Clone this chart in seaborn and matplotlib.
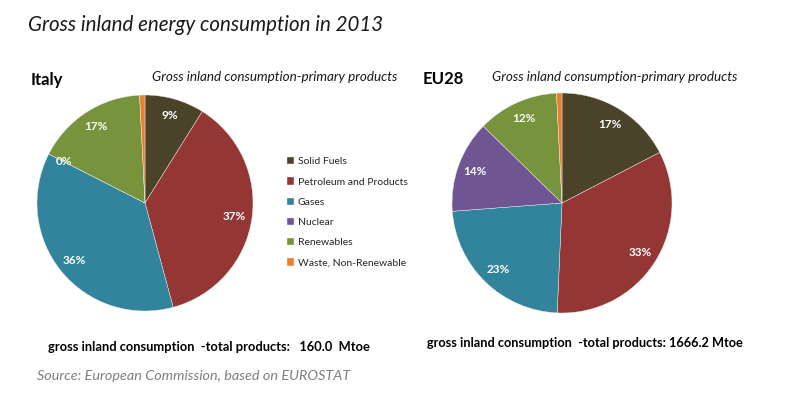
import matplotlib
matplotlib.use("Agg")
import matplotlib.pyplot as plt
import seaborn as sns

categories = ["Solid Fuels", "Petroleum and Products", "Gases", "Nuclear",
              "Renewables", "Waste, Non-Renewable"]
italy_values = [8.9, 36.9, 36.7, 0.0, 16.7, 0.8]
italy_labels = ["9%", "37%", "36%", "0%", "17%", ""]
eu_values = [17.4, 33.3, 23.1, 13.5, 11.9, 0.8]
eu_labels = ["17%", "33%", "23%", "14%", "12%", ""]
colors_hex = ["#4A4229", "#943634", "#31849B", "#6F5592", "#77933C", "#E8812E"]

sns.set_theme(style="white")
plt.rcParams['font.family'] = ['Lato', 'DejaVu Sans']
palette = sns.color_palette(colors_hex)

W, H = 789, 395
fig = plt.figure(figsize=(W / 100, H / 100), dpi=100)
fig.patch.set_facecolor("white")


def px_axes(cx, cy, r):
    return fig.add_axes([(cx - r) / W, (H - cy - r) / H, 2 * r / W, 2 * r / H])


def draw_pie(ax, values, labels):
    it = iter(labels)
    wedges, texts, autotexts = ax.pie(
        values, colors=palette, startangle=90, counterclock=False,
        autopct=lambda p: next(it), pctdistance=0.84, radius=1,
        wedgeprops=dict(edgecolor="#f0f0f0", linewidth=0.3),
        textprops=dict(color="white", fontsize=8.5, fontweight="bold"))
    ax.set_xlim(-1, 1)
    ax.set_ylim(-1, 1)
    ax.set_axis_off()
    return wedges


ax1 = px_axes(145, 203, 108)
w1 = draw_pie(ax1, italy_values, italy_labels)
ax2 = px_axes(562, 203, 110)
draw_pie(ax2, eu_values, eu_labels)

fig.legend(w1, categories, loc="upper left", bbox_to_anchor=(283 / W, 1 - 153 / H),
           frameon=False, fontsize=7.5, handlelength=0.7, handleheight=0.7,
           handletextpad=0.3, labelspacing=1.05, borderaxespad=0)

fig.text(28 / W, 1 - 25 / H, "Gross inland energy consumption in 2013",
         fontsize=14.8, style="italic", color="#1a1a1a", va="center", ha="left")
fig.text(31 / W, 1 - 80 / H, "Italy", fontsize=12, fontweight="bold",
         color="black", va="center", ha="left")
fig.text(423 / W, 1 - 79 / H, "EU28", fontsize=12, fontweight="bold",
         color="black", va="center", ha="left")
fig.text(152 / W, 1 - 77 / H, "Gross inland consumption-primary products",
         fontsize=9.7, style="italic", color="#1a1a1a", va="center", ha="left")
fig.text(492 / W, 1 - 77 / H, "Gross inland consumption-primary products",
         fontsize=9.7, style="italic", color="#1a1a1a", va="center", ha="left")
fig.text(48 / W, 1 - 347 / H, "gross inland consumption  -total products:   160.0  Mtoe",
         fontsize=9.3, fontweight="bold", color="black", va="center", ha="left")
fig.text(427 / W, 1 - 343 / H, "gross inland consumption  -total products: 1666.2 Mtoe",
         fontsize=9.2, fontweight="bold", color="black", va="center", ha="left")
fig.text(37 / W, 1 - 376 / H, "Source: European Commission, based on EUROSTAT",
         fontsize=10.4, style="italic", color="#7F7F7F", va="center", ha="left")

fig.savefig("out.png", dpi=100, facecolor="white")
